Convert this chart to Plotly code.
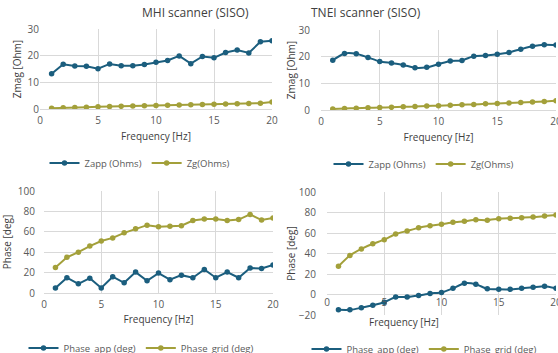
import plotly.graph_objects as go

freq = list(range(1, 21))

mhi_zapp = [13.2, 16.8, 16.1, 16.0, 15.1, 16.9, 16.2, 16.2, 16.7, 17.5,
            18.2, 19.9, 17.0, 19.7, 19.2, 21.2, 22.1, 21.0, 25.2, 25.6]
mhi_zg = [0.3, 0.5, 0.6, 0.7, 0.8, 0.9, 1.0, 1.1, 1.2, 1.3,
          1.4, 1.5, 1.6, 1.7, 1.8, 1.9, 2.0, 2.1, 2.2, 2.6]
tnei_zapp = [18.7, 21.2, 21.1, 19.7, 18.2, 17.6, 16.9, 15.8, 16.0, 17.2,
             18.4, 18.6, 20.2, 20.4, 20.9, 21.6, 22.8, 23.9, 24.5, 24.4]
tnei_zg = [0.4, 0.6, 0.7, 0.8, 0.9, 1.0, 1.2, 1.3, 1.5, 1.6,
           1.8, 2.0, 2.1, 2.3, 2.4, 2.6, 2.8, 3.0, 3.2, 3.5]
mhi_phase_app = [5, 15, 9, 14.5, 5, 16, 10, 20.5, 12, 19.5,
                 13, 17.5, 15, 23, 15, 20.5, 15, 24.5, 24, 27.5]
mhi_phase_grid = [25, 35, 40, 46, 51, 54, 59, 63, 66.5, 65,
                  65.5, 66, 71, 72.5, 72.5, 71, 72, 77, 71.5, 73.5]
tnei_phase_app = [-15, -15, -13, -10.5, -7.5, -2.5, -2.5, -1, 1, 2,
                  6, 11, 10, 5.5, 5, 5, 6, 7, 8, 6]
tnei_phase_grid = [27.5, 38, 44.5, 49.5, 53.5, 59, 62, 65, 67, 68.5,
                   70.5, 71.5, 73, 72.5, 74, 74.5, 75, 75.5, 76.5, 77.5]

BLUE = "#1b5e7e"
OLIVE = "#a3a03a"
GRID = "#d9d9d9"
TICK = "#595959"
CLEAR = "rgba(0,0,0,0)"
FONT = "Open Sans, Roboto, sans-serif"

W, H = 558, 353
def px(a, b):
    return [a / W, b / W]
def py(top, bottom):
    return [1 - bottom / H, 1 - top / H]

fig = go.Figure()

def add(x, y, name, color, xa, ya, legend, shape="linear"):
    fig.add_trace(go.Scatter(
        x=x, y=y, name=name, mode="lines+markers",
        line=dict(color=color, width=2, shape=shape, smoothing=0.6),
        marker=dict(color=color, size=5.5),
        xaxis=xa, yaxis=ya, legend=legend))

add(freq, mhi_zapp, "Zapp (Ohms)", BLUE, "x", "y", "legend")
add(freq, mhi_zg, "Zg(Ohms)", OLIVE, "x", "y", "legend")
add(freq, tnei_zapp, "Zapp (Ohms)", BLUE, "x2", "y2", "legend2", "spline")
add(freq, tnei_zg, "Zg(Ohms)", OLIVE, "x2", "y2", "legend2", "spline")
add(freq, mhi_phase_app, "Phase_app (deg)", BLUE, "x3", "y3", "legend3")
add(freq, mhi_phase_grid, "Phase_grid (deg)", OLIVE, "x3", "y3", "legend3")
add(freq, tnei_phase_app, "Phase_app (deg)", BLUE, "x4", "y4", "legend4", "spline")
add(freq, tnei_phase_grid, "Phase_grid (deg)", OLIVE, "x4", "y4", "legend4", "spline")

tickfont = dict(family=FONT, size=10, color=TICK)
titlefont = dict(family=FONT, size=10, color="#404040")

def xax(domain, anchor, title=True, standoff=4, position=None, showline=True, tl=2):
    d = dict(domain=domain, range=[0, 20], dtick=5, tick0=0, automargin=False,
             showgrid=True, gridcolor=GRID, gridwidth=1, zeroline=False,
             showline=showline, linecolor=GRID, tickfont=tickfont,
             ticks="outside" if tl > 0 else "", ticklen=max(tl, 1), tickcolor=CLEAR,
             ticklabeloverflow="allow",
             title=dict(text="Frequency [Hz]" if title else "", font=titlefont, standoff=standoff))
    if position is not None:
        d.update(anchor="free", position=position)
    else:
        d.update(anchor=anchor)
    return d

def yax(domain, anchor, rng, dtick, title, standoff=4, tl=0):
    return dict(domain=domain, anchor=anchor, range=rng, dtick=dtick, automargin=False,
                showgrid=True, gridcolor=GRID, gridwidth=1, zeroline=False,
                showline=False, tickfont=tickfont,
                ticks="outside" if tl > 0 else "", ticklen=max(tl, 1), tickcolor=CLEAR,
                title=dict(text=title, font=titlefont, standoff=standoff))

legend_common = dict(orientation="h", xanchor="center", yanchor="middle",
                     font=dict(family=FONT, size=9.5, color=TICK),
                     bgcolor="rgba(0,0,0,0)", itemwidth=30, tracegroupgap=0)

title_font = dict(family=FONT, size=12, color="#404040")

fig.update_layout(
    width=W, height=H,
    margin=dict(l=0, r=0, t=0, b=0, autoexpand=False),
    paper_bgcolor="white", plot_bgcolor="white",
    font=dict(family=FONT),
    hovermode=False,
    xaxis=xax(px(40, 272), "y", standoff=6),
    yaxis=yax(py(29, 109), "x", [0, 30], 10, "Zmag [Ohm]"),
    xaxis2=xax(px(321, 556), "y2", standoff=6),
    yaxis2=yax(py(30, 110), "x2", [0, 30], 10, "Zmag [Ohm]", standoff=1, tl=8),
    xaxis3=xax(px(44, 273), "y3", standoff=5),
    yaxis3=yax(py(191, 293), "x3", [0, 100], 20, "Phase [deg]", tl=6),
    xaxis4=xax(px(327, 556), "y4", title=False, position=1 - 295 / H, showline=False, tl=0),
    yaxis4=yax(py(192, 315), "x4", [-20, 100], 20, "Phase [deg]", standoff=1, tl=8),
    legend=dict(x=140 / W, y=1 - 163 / H, **legend_common),
    legend2=dict(x=424 / W, y=1 - 164 / H, **legend_common),
    legend3=dict(x=141 / W, y=1 - 348 / H, **legend_common),
    legend4=dict(x=424 / W, y=1 - 349 / H, **legend_common),
    showlegend=True,
    annotations=[
        dict(text="MHI scanner (SISO)", x=140 / W, y=1 - 12 / H, xref="paper", yref="paper",
             yanchor="middle", showarrow=False, font=title_font),
        dict(text="TNEI scanner (SISO)", x=423 / W, y=1 - 12 / H, xref="paper", yref="paper",
             yanchor="middle", showarrow=False, font=title_font),
        dict(text="Frequency [Hz]", x=441 / W, y=1 - 322 / H, xref="paper", yref="paper",
             yanchor="middle", showarrow=False, font=titlefont),
    ],
)

fig.write_html("out.html", config={"displayModeBar": False},
               post_script="document.body.style.margin='0';document.body.style.overflow='hidden';")
